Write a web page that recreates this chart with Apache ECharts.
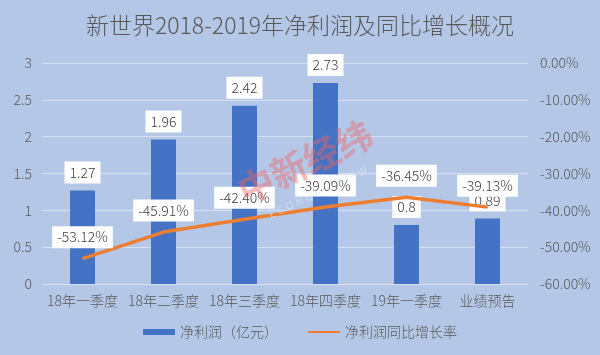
<!DOCTYPE html>
<html>
<head>
<meta charset="utf-8">
<script src="https://cdn.jsdelivr.net/npm/echarts@6/dist/echarts.min.js"></script>
<style>
html,body{margin:0;padding:0;background:#b4c7e7;}
#chart{width:600px;height:355px;}
</style>
</head>
<body>
<div id="chart"></div>
<script>
const categories = ['18年一季度','18年二季度','18年三季度','18年四季度','19年一季度','业绩预告'];
const profit = [1.27, 1.96, 2.42, 2.73, 0.8, 0.89];
const growth = [-53.12, -45.91, -42.40, -39.09, -36.45, -39.13];
const seriesNames = ['净利润（亿元）', '净利润同比增长率'];
const titleText = '新世界2018-2019年净利润及同比增长概况';

const FONT = '"Noto Sans CJK SC", "Noto Sans", sans-serif';
const W = 300;
const TXT = '#595959';
const labelBox = {
  backgroundColor: '#ffffff',
  padding: [4, 5, 4, 5],
  color: '#404040',
  fontSize: 14,
  fontWeight: W,
  fontFamily: FONT
};

const chart = echarts.init(document.getElementById('chart'), null, {renderer: 'canvas'});
chart.setOption({
  backgroundColor: '#b4c7e7',
  animation: false,
  textStyle: {fontFamily: FONT},
  title: {
    text: titleText,
    left: 'center',
    top: 9,
    textStyle: {fontSize: 23, fontWeight: W, color: TXT, fontFamily: FONT}
  },
  grid: {left: 42, right: 72, top: 63, bottom: 71},
  legend: {
    bottom: 11,
    left: 'center',
    itemWidth: 32,
    itemHeight: 6,
    itemGap: 30,
    textStyle: {fontSize: 14, fontWeight: W, color: TXT, fontFamily: FONT},
    data: [
      {name: seriesNames[0], icon: 'rect'},
      {name: seriesNames[1], icon: 'path://M0,2 L32,2 L32,4 L0,4 Z'}
    ]
  },
  xAxis: {
    type: 'category',
    data: categories,
    axisLine: {show: true, lineStyle: {color: '#d6e0f1', width: 1}},
    axisTick: {show: false},
    axisLabel: {fontSize: 14, fontWeight: W, color: TXT, margin: 10, interval: 0, fontFamily: FONT}
  },
  yAxis: [
    {
      type: 'value', min: 0, max: 3, interval: 0.5,
      axisLine: {show: false}, axisTick: {show: false},
      axisLabel: {fontSize: 14, fontWeight: W, color: TXT, margin: 10, fontFamily: FONT},
      splitLine: {lineStyle: {color: '#d6e0f1', width: 1}}
    },
    {
      type: 'value', min: -60, max: 0, interval: 10,
      axisLine: {show: false}, axisTick: {show: false},
      axisLabel: {fontSize: 14, fontWeight: W, color: TXT, margin: 12, fontFamily: FONT,
        formatter: v => v.toFixed(2) + '%'},
      splitLine: {show: false}
    }
  ],
  series: [
    {
      name: seriesNames[0],
      type: 'bar',
      data: profit,
      barWidth: 25,
      itemStyle: {color: '#4472c4'},
      label: Object.assign({show: true, position: 'top', distance: 7,
        formatter: p => String(p.value)}, labelBox),
      z: 2
    },
    {
      name: seriesNames[1],
      type: 'line',
      yAxisIndex: 1,
      data: growth,
      symbol: 'circle',
      symbolSize: 1,
      lineStyle: {color: '#ed7d31', width: 3.5},
      itemStyle: {color: '#ed7d31'},
      label: Object.assign({show: true, position: 'top', distance: 10,
        formatter: p => p.value.toFixed(2) + '%'}, labelBox),
      z: 5
    }
  ],
  graphic: [
    {
      type: 'text',
      x: 305, y: 162,
      rotation: 0.44,
      z: 100,
      style: {
        text: '中新经纬',
        fontSize: 36,
        fontWeight: 'bold',
        fontFamily: FONT,
        fill: 'rgba(235,105,105,0.45)',
        textAlign: 'center',
        textVerticalAlign: 'middle'
      }
    },
    {
      type: 'text',
      x: 318, y: 192,
      rotation: 0.44,
      z: 100,
      style: {
        text: 'E C O N O M Y   V I E W',
        fontSize: 11,
        fontFamily: FONT,
        fill: 'rgba(220,235,255,0.55)',
        textAlign: 'center',
        textVerticalAlign: 'middle'
      }
    }
  ]
});
</script>
</body>
</html>
